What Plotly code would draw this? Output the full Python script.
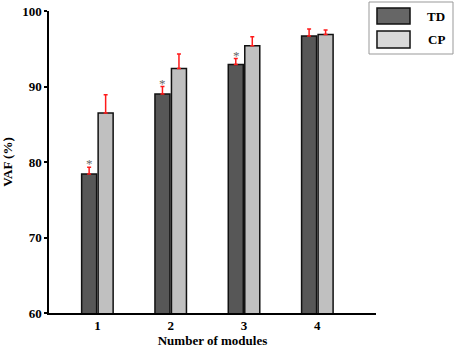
import plotly.graph_objects as go

modules = [1, 2, 3, 4]
tick_labels = ["1", "2", "3", "4"]
td_values = [78.4, 89.0, 92.9, 96.7]
td_errors = [0.9, 1.0, 0.8, 0.9]
cp_values = [86.5, 92.4, 95.4, 96.9]
cp_errors = [2.4, 1.9, 1.2, 0.6]
significant = [True, True, True, False]

FONT = "Liberation Serif"
TD_COLOR = "#575757"
CP_COLOR = "#c0c0c0"

fig = go.Figure()
fig.add_trace(go.Bar(
    x=modules, y=td_values, name="TD",
    marker=dict(color=TD_COLOR, line=dict(color="#111111", width=1.5)),
    error_y=dict(type="data", array=td_errors, arrayminus=[0] * len(td_errors),
                 symmetric=False, color="#ff1a1a", thickness=1.5, width=2),
))
fig.add_trace(go.Bar(
    x=modules, y=cp_values, name="CP",
    marker=dict(color=CP_COLOR, line=dict(color="#111111", width=1.5)),
    error_y=dict(type="data", array=cp_errors, arrayminus=[0] * len(cp_errors),
                 symmetric=False, color="#ff1a1a", thickness=1.5, width=2),
))

# significance stars above TD bars
for m, v, e, s in zip(modules, td_values, td_errors, significant):
    if s:
        fig.add_annotation(x=m, y=v + e, xref="x", yref="y", text="*",
                           showarrow=False, xshift=-8, yanchor="bottom", yshift=-6,
                           font=dict(family=FONT, size=13, color="#666666"))

# manual legend
fig.add_shape(type="rect", xref="paper", yref="paper",
              x0=0.9786, x1=1.2355, y0=0.8576, y1=1.0298,
              line=dict(color="#999999", width=1), fillcolor="white")
fig.add_shape(type="rect", xref="paper", yref="paper",
              x0=1.003, x1=1.104, y0=0.957, y1=1.0099,
              line=dict(color="#111111", width=1.5), fillcolor="#666666")
fig.add_shape(type="rect", xref="paper", yref="paper",
              x0=1.003, x1=1.104, y0=0.8775, y1=0.9338,
              line=dict(color="#111111", width=1.5), fillcolor="#d8d8d8")
fig.add_annotation(x=1.1835, y=0.9834, xref="paper", yref="paper", text="<b>TD</b>",
                   xanchor="center", yanchor="middle",
                   showarrow=False, font=dict(family=FONT, size=13, color="black"))
fig.add_annotation(x=1.1835, y=0.904, xref="paper", yref="paper", text="<b>CP</b>",
                   xanchor="center", yanchor="middle",
                   showarrow=False, font=dict(family=FONT, size=13, color="black"))

fig.update_layout(
    width=454, height=349,
    margin=dict(l=49, r=78, t=11, b=36, autoexpand=False),
    paper_bgcolor="white", plot_bgcolor="white",
    barmode="group", bargap=0.55, bargroupgap=0.09,
    showlegend=False,
    font=dict(family=FONT, size=13, color="black"),
)
fig.update_xaxes(
    automargin=False,
    range=[0.34, 4.80], tickvals=modules, ticktext=["<b>%s</b>" % t for t in tick_labels],
    showline=True, linecolor="black", linewidth=1.5, showgrid=False, zeroline=False,
    ticks="", title=dict(text="<b>Number of modules</b>", standoff=4,
                         font=dict(family=FONT, size=13)),
)
fig.update_yaxes(
    automargin=False,
    range=[60, 100], tickvals=[60, 70, 80, 90, 100],
    ticktext=["<b>60</b>", "<b>70</b>", "<b>80</b>", "<b>90</b>", "<b>100</b>"],
    showline=True, linecolor="black", linewidth=1.5, showgrid=False, zeroline=False,
    ticks="outside", ticklen=3, tickwidth=1.5, tickcolor="black",
    title=dict(text="<b>VAF (%)</b>", standoff=8, font=dict(family=FONT, size=13)),
)

fig.write_html("out.html", config={"displayModeBar": False},
               post_script="document.body.style.margin='0';")
